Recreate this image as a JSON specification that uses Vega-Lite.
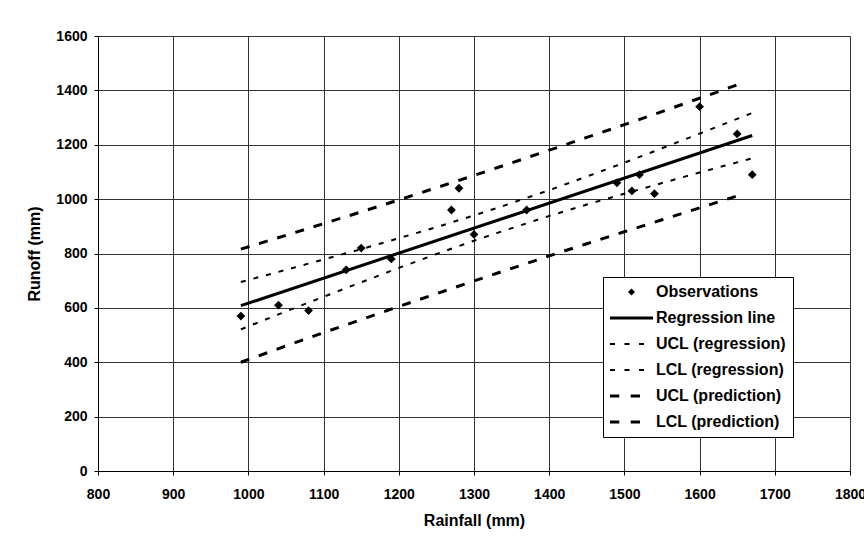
{
  "$schema": "https://vega.github.io/schema/vega-lite/v6.json",
  "width": 752,
  "height": 435,
  "autosize": {"type": "none"},
  "padding": {"left": 98, "top": 36, "right": 14, "bottom": 75},
  "background": "white",
  "config": {
    "font": "Liberation Sans",
    "view": {"stroke": null},
    "axis": {
      "labelFont": "Liberation Sans",
      "labelFontWeight": "bold",
      "labelFontSize": 14,
      "labelColor": "black",
      "titleFont": "Liberation Sans",
      "titleFontWeight": "bold",
      "titleFontSize": 16,
      "titleColor": "black",
      "domainColor": "black",
      "tickColor": "black",
      "tickSize": 4,
      "gridColor": "#333333",
      "gridWidth": 1
    }
  },
  "data": {
    "values": [
      {"series": "Observations", "rainfall": 990, "runoff": 570},
      {"series": "Observations", "rainfall": 1040, "runoff": 610},
      {"series": "Observations", "rainfall": 1080, "runoff": 590},
      {"series": "Observations", "rainfall": 1130, "runoff": 740},
      {"series": "Observations", "rainfall": 1150, "runoff": 820},
      {"series": "Observations", "rainfall": 1190, "runoff": 780},
      {"series": "Observations", "rainfall": 1270, "runoff": 960},
      {"series": "Observations", "rainfall": 1280, "runoff": 1040},
      {"series": "Observations", "rainfall": 1300, "runoff": 870},
      {"series": "Observations", "rainfall": 1370, "runoff": 960},
      {"series": "Observations", "rainfall": 1490, "runoff": 1060},
      {"series": "Observations", "rainfall": 1510, "runoff": 1030},
      {"series": "Observations", "rainfall": 1520, "runoff": 1090},
      {"series": "Observations", "rainfall": 1540, "runoff": 1020},
      {"series": "Observations", "rainfall": 1600, "runoff": 1340},
      {"series": "Observations", "rainfall": 1650, "runoff": 1240},
      {"series": "Observations", "rainfall": 1670, "runoff": 1090},
      {"series": "Regression line", "rainfall": 990, "runoff": 608},
      {"series": "Regression line", "rainfall": 1670, "runoff": 1234},
      {"series": "UCL (regression)", "rainfall": 990, "runoff": 695},
      {"series": "UCL (regression)", "rainfall": 1050, "runoff": 740},
      {"series": "UCL (regression)", "rainfall": 1100, "runoff": 778},
      {"series": "UCL (regression)", "rainfall": 1150, "runoff": 816},
      {"series": "UCL (regression)", "rainfall": 1200, "runoff": 856},
      {"series": "UCL (regression)", "rainfall": 1250, "runoff": 897},
      {"series": "UCL (regression)", "rainfall": 1300, "runoff": 940},
      {"series": "UCL (regression)", "rainfall": 1340, "runoff": 976},
      {"series": "UCL (regression)", "rainfall": 1400, "runoff": 1033},
      {"series": "UCL (regression)", "rainfall": 1450, "runoff": 1083},
      {"series": "UCL (regression)", "rainfall": 1500, "runoff": 1134},
      {"series": "UCL (regression)", "rainfall": 1550, "runoff": 1187},
      {"series": "UCL (regression)", "rainfall": 1600, "runoff": 1241},
      {"series": "UCL (regression)", "rainfall": 1670, "runoff": 1317},
      {"series": "LCL (regression)", "rainfall": 990, "runoff": 521},
      {"series": "LCL (regression)", "rainfall": 1050, "runoff": 587},
      {"series": "LCL (regression)", "rainfall": 1100, "runoff": 641},
      {"series": "LCL (regression)", "rainfall": 1150, "runoff": 694},
      {"series": "LCL (regression)", "rainfall": 1200, "runoff": 747},
      {"series": "LCL (regression)", "rainfall": 1250, "runoff": 798},
      {"series": "LCL (regression)", "rainfall": 1300, "runoff": 847},
      {"series": "LCL (regression)", "rainfall": 1340, "runoff": 884},
      {"series": "LCL (regression)", "rainfall": 1400, "runoff": 938},
      {"series": "LCL (regression)", "rainfall": 1450, "runoff": 980},
      {"series": "LCL (regression)", "rainfall": 1500, "runoff": 1020},
      {"series": "LCL (regression)", "rainfall": 1550, "runoff": 1059},
      {"series": "LCL (regression)", "rainfall": 1600, "runoff": 1098},
      {"series": "LCL (regression)", "rainfall": 1670, "runoff": 1150},
      {"series": "UCL (prediction)", "rainfall": 990, "runoff": 816},
      {"series": "UCL (prediction)", "rainfall": 1050, "runoff": 867},
      {"series": "UCL (prediction)", "rainfall": 1100, "runoff": 910},
      {"series": "UCL (prediction)", "rainfall": 1150, "runoff": 953},
      {"series": "UCL (prediction)", "rainfall": 1200, "runoff": 997},
      {"series": "UCL (prediction)", "rainfall": 1250, "runoff": 1042},
      {"series": "UCL (prediction)", "rainfall": 1300, "runoff": 1087},
      {"series": "UCL (prediction)", "rainfall": 1340, "runoff": 1124},
      {"series": "UCL (prediction)", "rainfall": 1400, "runoff": 1180},
      {"series": "UCL (prediction)", "rainfall": 1450, "runoff": 1227},
      {"series": "UCL (prediction)", "rainfall": 1500, "runoff": 1274},
      {"series": "UCL (prediction)", "rainfall": 1550, "runoff": 1322},
      {"series": "UCL (prediction)", "rainfall": 1600, "runoff": 1371},
      {"series": "UCL (prediction)", "rainfall": 1655, "runoff": 1425},
      {"series": "LCL (prediction)", "rainfall": 990, "runoff": 400},
      {"series": "LCL (prediction)", "rainfall": 1050, "runoff": 460},
      {"series": "LCL (prediction)", "rainfall": 1100, "runoff": 509},
      {"series": "LCL (prediction)", "rainfall": 1150, "runoff": 557},
      {"series": "LCL (prediction)", "rainfall": 1200, "runoff": 605},
      {"series": "LCL (prediction)", "rainfall": 1250, "runoff": 652},
      {"series": "LCL (prediction)", "rainfall": 1300, "runoff": 699},
      {"series": "LCL (prediction)", "rainfall": 1340, "runoff": 736},
      {"series": "LCL (prediction)", "rainfall": 1400, "runoff": 791},
      {"series": "LCL (prediction)", "rainfall": 1450, "runoff": 836},
      {"series": "LCL (prediction)", "rainfall": 1500, "runoff": 880},
      {"series": "LCL (prediction)", "rainfall": 1550, "runoff": 924},
      {"series": "LCL (prediction)", "rainfall": 1600, "runoff": 968},
      {"series": "LCL (prediction)", "rainfall": 1655, "runoff": 1016}
    ]
  },
  "encoding": {
    "x": {
      "field": "rainfall",
      "type": "quantitative",
      "scale": {"domain": [800, 1800], "nice": false, "zero": false},
      "axis": {
        "title": "Rainfall (mm)",
        "format": "d",
        "values": [800, 900, 1000, 1100, 1200, 1300, 1400, 1500, 1600, 1700, 1800],
        "labelPadding": 12,
        "titlePadding": 11,
        "labelFlush": false
      }
    },
    "y": {
      "field": "runoff",
      "type": "quantitative",
      "scale": {"domain": [0, 1600], "nice": false},
      "axis": {
        "title": "Runoff (mm)",
        "format": "d",
        "values": [0, 200, 400, 600, 800, 1000, 1200, 1400, 1600],
        "labelPadding": 7,
        "titlePadding": 13,
        "labelFlush": false
      }
    }
  },
  "layer": [
    {
      "transform": [{"filter": "datum.series === 'Regression line'"}],
      "mark": {"type": "line", "strokeWidth": 3, "color": "black"},
      "encoding": {"detail": {"field": "series", "type": "nominal"}}
    },
    {
      "transform": [{"filter": "indexof(datum.series, '(regression)') >= 0"}],
      "mark": {"type": "line", "strokeWidth": 2, "strokeDash": [5, 8], "color": "black"},
      "encoding": {"detail": {"field": "series", "type": "nominal"}}
    },
    {
      "transform": [{"filter": "indexof(datum.series, '(prediction)') >= 0"}],
      "mark": {"type": "line", "strokeWidth": 3, "strokeDash": [9, 10], "color": "black"},
      "encoding": {"detail": {"field": "series", "type": "nominal"}}
    },
    {
      "transform": [{"filter": "datum.series === 'Observations'"}],
      "mark": {"type": "point", "filled": true, "size": 2900, "opacity": 1, "color": "black", "strokeWidth": 0},
      "encoding": {
        "shape": {
          "field": "series",
          "type": "nominal",
          "scale": {
            "domain": ["Observations", "Regression line", "UCL (regression)", "LCL (regression)", "UCL (prediction)", "LCL (prediction)"],
            "range": [
              "M-0.163,0L0,-0.163L0.163,0L0,0.163Z",
              "M-1,-0.07H1V0.07H-1Z",
              "M-1,-0.0465H-0.767V0.0465H-1Z M-0.326,-0.0465H-0.093V0.0465H-0.326Z M0.349,-0.0465H0.581V0.0465H0.349Z",
              "M-1,-0.0465H-0.767V0.0465H-1Z M-0.326,-0.0465H-0.093V0.0465H-0.326Z M0.349,-0.0465H0.581V0.0465H0.349Z",
              "M-1,-0.07H-0.567V0.07H-1Z M-0.037,-0.07H0.395V0.07H-0.037Z",
              "M-1,-0.07H-0.567V0.07H-1Z M-0.037,-0.07H0.395V0.07H-0.037Z"
            ]
          },
          "legend": {
            "title": null,
            "orient": "none",
            "legendX": 505,
            "legendY": 241,
            "strokeColor": "black",
            "fillColor": "white",
            "padding": 7,
            "labelFont": "Liberation Sans",
            "labelFontSize": 16,
            "labelFontWeight": "bold",
            "labelColor": "black",
            "labelOffset": 3,
            "symbolSize": 1849,
            "symbolStrokeWidth": 0,
            "symbolFillColor": "black",
            "clipHeight": 16,
            "rowPadding": 10
          }
        }
      }
    }
  ]
}
